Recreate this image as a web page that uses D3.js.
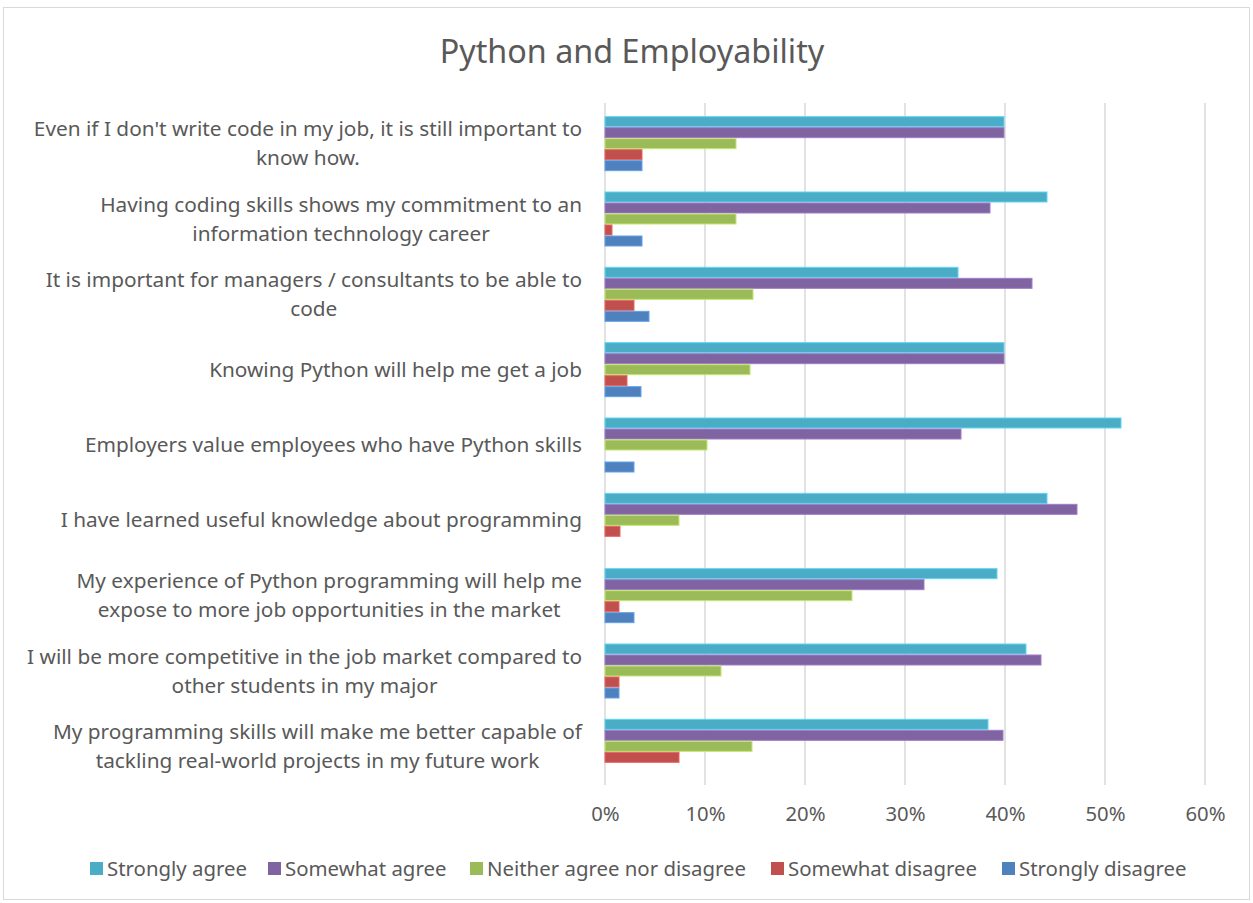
<!DOCTYPE html>
<html><head><meta charset="utf-8">
<script src="https://cdn.jsdelivr.net/npm/d3@7"></script>
<style>body{margin:0;background:#fff}svg{display:block}</style>
</head><body>
<svg id="c" width="1253" height="903"></svg>
<script>
const categories = [
  ["Even if I don't write code in my job, it is still important to", "know how."],
  ["Having coding skills shows my commitment to an", "information technology career"],
  ["It is important for managers / consultants to be able to", "code"],
  ["Knowing Python will help me get a job"],
  ["Employers value employees who have Python skills"],
  ["I have learned useful knowledge about programming"],
  ["My experience of Python programming will help me", "expose to more job opportunities in the market"],
  ["I will be more competitive in the job market compared to", "other students in my major"],
  ["My programming skills will make me better capable of", "tackling real-world projects in my future work"]
];
const seriesNames = ["Strongly agree","Somewhat agree","Neither agree nor disagree","Somewhat disagree","Strongly disagree"];
const stronglyAgree    = [39.9, 44.2, 35.3, 39.9, 51.6, 44.2, 39.2, 42.1, 38.3];
const somewhatAgree    = [39.9, 38.5, 42.7, 39.9, 35.6, 47.2, 31.9, 43.6, 39.8];
const neither          = [13.1, 13.1, 14.8, 14.5, 10.2, 7.4, 24.7, 11.6, 14.7];
const somewhatDisagree = [3.7, 0.7, 2.9, 2.2, 0, 1.5, 1.4, 1.4, 7.4];
const stronglyDisagree = [3.7, 3.7, 4.4, 3.6, 2.9, 0, 2.9, 1.4, 0];
const tickValues = [0,10,20,30,40,50,60];
const colors = ["#4BACC6","#8064A2","#9BBB59","#C0504D","#4F81BD"];

const seriesValues = [stronglyAgree, somewhatAgree, neither, somewhatDisagree, stronglyDisagree];
const svg = d3.select("#c");
const font = "'Noto Sans', sans-serif";
const textColor = "#595959";

svg.append("rect").attr("x",3.5).attr("y",7.5).attr("width",1246).attr("height",892)
  .attr("fill","#fff").attr("stroke","#d9d9d9");

svg.append("text").attr("x",632).attr("y",63).attr("text-anchor","middle")
  .attr("font-family",font).attr("font-size",32.3).attr("fill",textColor).text("Python and Employability");

const x = d3.scaleLinear().domain([0,60]).range([605,1205]);
const y = d3.scaleBand().domain(d3.range(categories.length)).range([106,784]).paddingInner(0.27).paddingOuter(0.135);
const yInner = d3.scaleBand().domain(d3.range(seriesNames.length)).range([0,y.bandwidth()]);

// gridlines
svg.append("g").selectAll("line").data(tickValues).join("line")
  .attr("x1",d=>x(d)).attr("x2",d=>x(d)).attr("y1",103).attr("y2",785)
  .attr("stroke","#d9d9d9").attr("stroke-width",1.5);

// bars
const groups = svg.append("g").selectAll("g").data(categories).join("g")
  .attr("transform",(d,i)=>`translate(0,${y(i)})`);
groups.each(function(d,i){
  d3.select(this).selectAll("rect").data(seriesValues.map((s,k)=>({k,v:s[i]})).filter(o=>o.v>0)).join("rect")
    .attr("x",x(0)).attr("y",o=>yInner(o.k)+0.5).attr("width",o=>x(o.v)-x(0)).attr("height",yInner.bandwidth()-1)
    .attr("fill",o=>colors[o.k]).attr("stroke",o=>d3.color(colors[o.k]).brighter(0.6)).attr("stroke-width",1);
});

// category labels: block right-aligned at 582, lines centered within block
const lineH = 29;
const labelRight = 582;
svg.append("g").selectAll("text").data(categories).join("text")
  .attr("text-anchor","middle").attr("font-family",font).attr("font-size",20.8).attr("fill",textColor)
  .each(function(lines,i){
    const cy = y(i)+y.bandwidth()/2;
    const t0 = cy - (lines.length-1)*lineH/2 + 7;
    const sel = d3.select(this);
    const spans = sel.selectAll("tspan").data(lines).join("tspan")
      .attr("y",(l,j)=>t0+j*lineH).text(l=>l);
    let w = 0;
    spans.each(function(){ w = Math.max(w, this.getComputedTextLength()); });
    spans.attr("x", labelRight - w/2);
  });

// x axis
const axis = svg.append("g").attr("transform","translate(0,800)")
  .call(d3.axisBottom(x).tickValues(tickValues).tickFormat(d=>d+"%").tickSize(0).tickPadding(0));
axis.select(".domain").remove();
axis.selectAll("text").attr("font-family",font).attr("font-size",20.3).attr("fill",textColor).attr("dy","1.05em");

// legend
const legendX = [90,268,470,771,1002];
const lg = svg.append("g").selectAll("g").data(seriesNames).join("g")
  .attr("transform",(d,i)=>`translate(${legendX[i]},862)`);
lg.append("rect").attr("width",13).attr("height",13).attr("fill",(d,i)=>colors[i]);
lg.append("text").attr("x",17).attr("y",13.5).attr("font-family",font).attr("font-size",20.4).attr("fill",textColor).text(d=>d);
</script>
</body></html>
